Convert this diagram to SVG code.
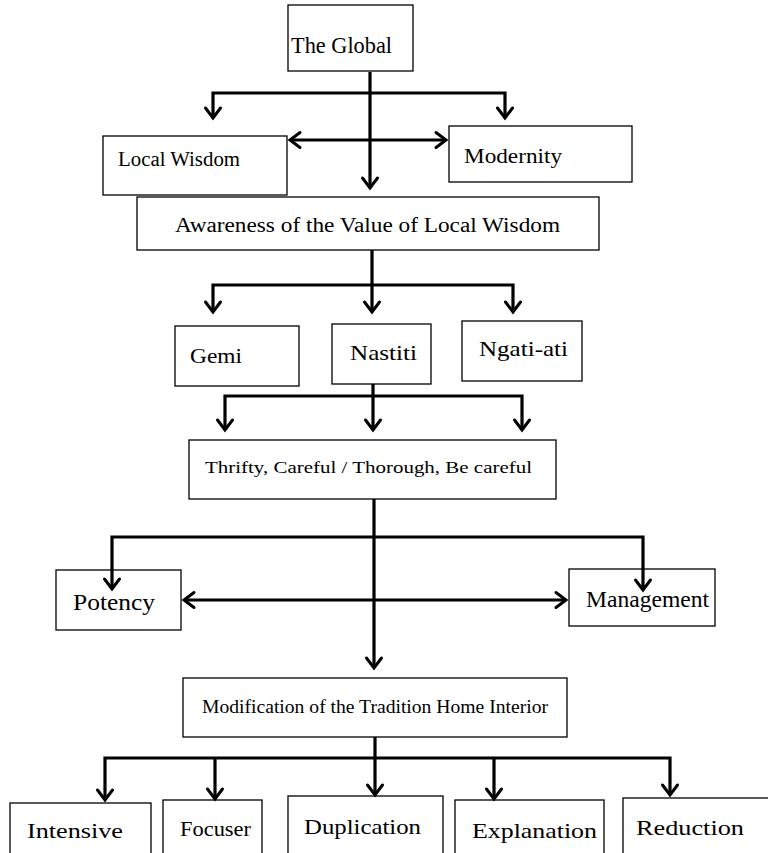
<svg xmlns="http://www.w3.org/2000/svg" width="768" height="853" viewBox="0 0 768 853">
<defs>
<marker id="arr" markerUnits="userSpaceOnUse" markerWidth="22" markerHeight="22" viewBox="-13 -11 15 22" refX="0" refY="0" orient="auto-start-reverse">
<path d="M-10,-7.5 L0,0 L-10,7.5" fill="none" stroke="#000" stroke-width="3" stroke-linecap="round" stroke-linejoin="miter"/>
</marker>
<style>
rect{fill:#fff;stroke:#000;stroke-width:1.3}
text{font-family:"Liberation Serif","DejaVu Serif",serif;fill:#000}
.c path,.c line{fill:none;stroke:#000;stroke-width:3.2}
</style>
</defs>
<rect x="0" y="0" width="768" height="853" style="stroke:none"/>
<g id="global"><rect x="288" y="5" width="125" height="66"/><text x="291" y="53" font-size="24" textLength="101" lengthAdjust="spacingAndGlyphs">The Global</text></g>
<g id="local-wisdom"><rect x="103" y="136" width="184" height="59"/><text x="118" y="166" font-size="20" textLength="122" lengthAdjust="spacingAndGlyphs">Local Wisdom</text></g>
<g id="modernity"><rect x="449" y="126" width="183" height="56"/><text x="464" y="163" font-size="21" textLength="98" lengthAdjust="spacingAndGlyphs">Modernity</text></g>
<g id="awareness"><rect x="137" y="197" width="462" height="53"/><text x="175" y="232" font-size="20" textLength="385" lengthAdjust="spacingAndGlyphs">Awareness of the Value of Local Wisdom</text></g>
<g id="gemi"><rect x="175" y="326" width="124" height="60"/><text x="190" y="363" font-size="21" textLength="52" lengthAdjust="spacingAndGlyphs">Gemi</text></g>
<g id="nastiti"><rect x="332" y="324" width="99" height="60"/><text x="350" y="360" font-size="21" textLength="67" lengthAdjust="spacingAndGlyphs">Nastiti</text></g>
<g id="ngati-ati"><rect x="462" y="321" width="120" height="60"/><text x="479" y="356" font-size="21" textLength="89" lengthAdjust="spacingAndGlyphs">Ngati-ati</text></g>
<g id="thrifty"><rect x="189" y="440" width="367" height="59"/><text x="205" y="473" font-size="17" textLength="327" lengthAdjust="spacingAndGlyphs">Thrifty, Careful / Thorough, Be careful</text></g>
<g id="potency"><rect x="56" y="570" width="125" height="60"/><text x="73" y="610" font-size="23" textLength="82" lengthAdjust="spacingAndGlyphs">Potency</text></g>
<g id="management"><rect x="569" y="569" width="146" height="57"/><text x="586" y="607" font-size="23" textLength="123" lengthAdjust="spacingAndGlyphs">Management</text></g>
<g id="modification"><rect x="183" y="678" width="384" height="59"/><text x="202" y="713" font-size="18" textLength="346" lengthAdjust="spacingAndGlyphs">Modification of the Tradition Home Interior</text></g>
<g id="intensive"><rect x="10" y="803" width="141" height="60"/><text x="27" y="838" font-size="22" textLength="96" lengthAdjust="spacingAndGlyphs">Intensive</text></g>
<g id="focuser"><rect x="163" y="800" width="99" height="63"/><text x="180" y="836" font-size="22" textLength="71" lengthAdjust="spacingAndGlyphs">Focuser</text></g>
<g id="duplication"><rect x="288" y="796" width="155" height="67"/><text x="304" y="834" font-size="22" textLength="117" lengthAdjust="spacingAndGlyphs">Duplication</text></g>
<g id="explanation"><rect x="455" y="800" width="149" height="63"/><text x="472" y="838" font-size="22" textLength="125" lengthAdjust="spacingAndGlyphs">Explanation</text></g>
<g id="reduction"><rect x="623" y="798" width="150" height="65"/><text x="636" y="835" font-size="22" textLength="108" lengthAdjust="spacingAndGlyphs">Reduction</text></g>
<g class="c" id="connectors">
<line x1="370" y1="72" x2="370" y2="188" marker-end="url(#arr)"/>
<path d="M213,118 V93 H505 V118" marker-start="url(#arr)" marker-end="url(#arr)"/>
<line x1="290" y1="140" x2="446" y2="140" marker-start="url(#arr)" marker-end="url(#arr)"/>
<line x1="372" y1="250" x2="372" y2="312" marker-end="url(#arr)"/>
<path d="M213,312 V285 H513 V312" marker-start="url(#arr)" marker-end="url(#arr)"/>
<line x1="373" y1="384" x2="373" y2="430" marker-end="url(#arr)"/>
<path d="M225,430 V396 H522 V430" marker-start="url(#arr)" marker-end="url(#arr)"/>
<line x1="374" y1="499" x2="374" y2="668" marker-end="url(#arr)"/>
<path d="M112,589 V537 H643 V590" marker-start="url(#arr)" marker-end="url(#arr)"/>
<line x1="184" y1="600" x2="566" y2="600" marker-start="url(#arr)" marker-end="url(#arr)"/>
<line x1="375" y1="737" x2="375" y2="795" marker-end="url(#arr)"/>
<path d="M105,800 V758 H670 V795" marker-start="url(#arr)" marker-end="url(#arr)"/>
<line x1="215" y1="758" x2="215" y2="799" marker-end="url(#arr)"/>
<line x1="494" y1="758" x2="494" y2="799" marker-end="url(#arr)"/>
</g>
</svg>
